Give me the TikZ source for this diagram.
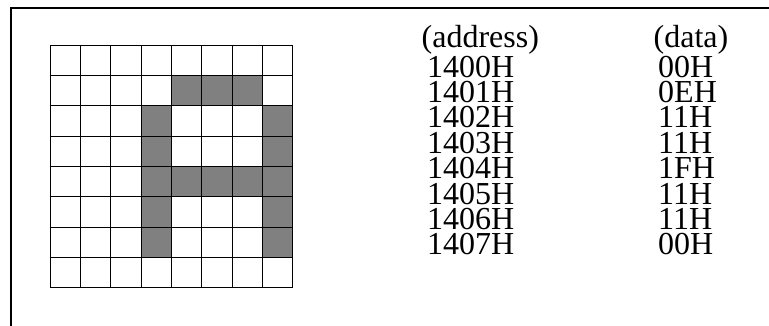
\documentclass[tikz,border=0pt]{standalone}
\usepackage{fontspec}
\setmainfont{Liberation Serif}
\usetikzlibrary{positioning}

\begin{document}
\begin{tikzpicture}[
  x=1pt, y=-1pt,
  font=\fontsize{32}{32}\selectfont,
  frame/.style={line width=2pt, line cap=rect},
  gridline/.style={line width=1pt, line cap=rect},
  pixel/.style={fill=black!50},
  entry/.style={anchor=base west, inner sep=0pt}
]
\useasboundingbox (0,0) rectangle (769,325);
\draw[frame] (11,326) -- (11,8) -- (770,8);

% lit pixels of the 8x8 character
\foreach \cx/\cy in {4/1,5/1,6/1,3/2,7/2,3/3,7/3,3/4,4/4,5/4,6/4,7/4,3/5,7/5,3/6,7/6}
  \fill[pixel] ({50+\cx*30.35},{45+\cy*30.35}) rectangle ++(30.35,30.35);
\foreach \i in {0,...,8} {
  \draw[gridline] ({50+\i*30.35},45) -- ({50+\i*30.35},287.8);
  \draw[gridline] (50,{45+\i*30.35}) -- (292.8,{45+\i*30.35});
}

% address / data table
\node[entry] (addrhead) at (421.5,47) {(address)};
\node[entry] (datahead) at (653.5,47) {(data)};
\foreach \addr/\val [count=\i from 0] in {1400H/00H,1401H/0EH,1402H/11H,1403H/11H,1404H/1FH,1405H/11H,1406H/11H,1407H/00H} {
  \node[entry] (addr\i) at (427,{77+\i*25.4}) {\addr};
  \node[entry] (data\i) at (658,{77+\i*25.4}) {\val};
}
\end{tikzpicture}
\end{document}
